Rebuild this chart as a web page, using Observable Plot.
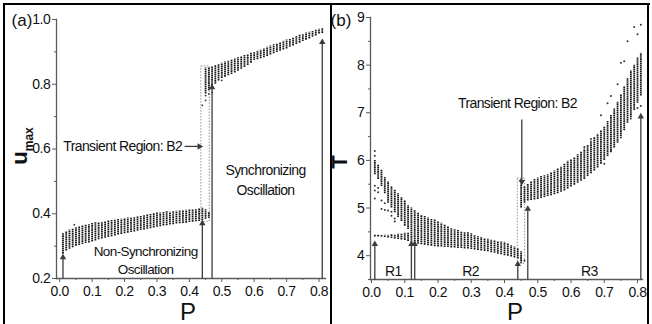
<!DOCTYPE html>
<html><head><meta charset="utf-8">
<script src="https://cdn.jsdelivr.net/npm/d3@7"></script>
<script src="https://cdn.jsdelivr.net/npm/@observablehq/plot@0.6"></script>
<style>
html,body{margin:0;padding:0;background:#fff;}
#fig{position:relative;width:652px;height:324px;overflow:hidden;background:#fff;
  font-family:"Liberation Sans",Arial,sans-serif;color:#111;}
.panel{position:absolute;top:0;}
.line{position:absolute;background:#000;}
.lbl{position:absolute;transform:translate(-50%,-50%);white-space:nowrap;line-height:1;}
#fig svg text{letter-spacing:-0.4px;}
#fig svg g[aria-label="text"] text{letter-spacing:-0.6px;}
</style></head>
<body><div id="fig">
<div id="pa" class="panel" style="left:0"></div>
<div id="pb" class="panel" style="left:331px"></div>
<div class="line" style="left:3px;top:3px;width:647px;height:2px"></div>
<div class="line" style="left:3px;top:3px;width:2px;height:321px"></div>
<div class="line" style="left:330px;top:3px;width:2px;height:321px"></div>
<div class="line" style="left:647px;top:3px;width:2px;height:321px"></div>
<div class="lbl" style="left:22px;top:20px;font-size:17px">(a)</div>
<div class="lbl" style="left:341px;top:20px;font-size:17px">(b)</div>
<div class="lbl" style="left:188px;top:312px;font-size:24px">P</div>
<div class="lbl" style="left:515px;top:312px;font-size:24px">P</div>
<div class="lbl" style="left:22px;top:146px;transform:translate(-50%,-50%) rotate(-90deg);font-size:22px;font-weight:bold">u<sub style="font-size:12px;font-weight:bold">max</sub></div>
<div class="lbl" style="left:340px;top:162px;transform:translate(-50%,-50%) rotate(-90deg);font-size:22px;font-weight:bold">T</div>
</div>
<script>
// ---------- Panel (a): u_max vs P ----------
const pA1  = [0.01,0.02,0.03,0.04,0.05,0.06,0.07,0.08,0.09,0.10,0.11,0.12,0.13,0.14,0.15,0.16,0.17,0.18,0.19,0.20,0.21,0.22,0.23,0.24,0.25,0.26,0.27,0.28,0.29,0.30,0.31,0.32,0.33,0.34,0.35,0.36,0.37,0.38,0.39,0.40,0.41,0.42,0.43,0.44,0.45,0.46];
const loA1 = [0.275,0.285,0.290,0.295,0.300,0.302,0.305,0.308,0.310,0.313,0.316,0.320,0.322,0.324,0.327,0.329,0.331,0.334,0.336,0.338,0.340,0.342,0.344,0.346,0.348,0.350,0.352,0.354,0.356,0.358,0.360,0.362,0.363,0.365,0.366,0.368,0.369,0.370,0.371,0.373,0.374,0.375,0.376,0.378,0.383,0.385];
const hiA1 = [0.340,0.345,0.350,0.352,0.358,0.360,0.362,0.365,0.366,0.370,0.372,0.373,0.374,0.376,0.378,0.379,0.380,0.382,0.383,0.385,0.387,0.388,0.389,0.391,0.393,0.395,0.396,0.398,0.400,0.404,0.402,0.404,0.406,0.405,0.407,0.408,0.409,0.410,0.411,0.413,0.412,0.414,0.416,0.418,0.412,0.405];
const pA2  = [0.45,0.46,0.47,0.48,0.49,0.50,0.51,0.52,0.53,0.54,0.55,0.56,0.57,0.58,0.59,0.60,0.61,0.62,0.63,0.64,0.65,0.66,0.67,0.68,0.69,0.70,0.71,0.72,0.73,0.74,0.75,0.76,0.77,0.78,0.79,0.80,0.81];
const loA2 = [0.770,0.780,0.790,0.800,0.810,0.818,0.822,0.826,0.830,0.835,0.840,0.846,0.852,0.858,0.865,0.873,0.876,0.879,0.882,0.886,0.890,0.894,0.898,0.902,0.906,0.909,0.914,0.918,0.923,0.927,0.932,0.936,0.940,0.945,0.949,0.955,0.957];
const hiA2 = [0.850,0.852,0.855,0.858,0.862,0.865,0.869,0.872,0.875,0.878,0.882,0.886,0.889,0.892,0.896,0.899,0.903,0.906,0.910,0.914,0.918,0.922,0.925,0.929,0.933,0.937,0.940,0.944,0.947,0.951,0.954,0.958,0.961,0.964,0.967,0.970,0.972];
const outPA = [0.045,0.45,0.45,0.46,0.44,0.50,0.47];
const outUA = [0.366,0.765,0.750,0.770,0.735,0.812,0.775];
const arrowPA   = [0.01,0.44,0.47,0.81];
const arrowTopA = [0.265,0.370,0.790,0.930];
const xTicks = [0,0.1,0.2,0.3,0.4,0.5,0.6,0.7,0.8];
const xMinor = [0.05,0.15,0.25,0.35,0.45,0.55,0.65,0.75];
const yTicksA = [0.2,0.4,0.6,0.8,1.0];
const yMinorA = [0.3,0.5,0.7,0.9];

// ---------- Panel (b): T vs P ----------
const pB1  = [0.01,0.02,0.03,0.04,0.05,0.06,0.07,0.08,0.09,0.10,0.11,0.12,0.13,0.14,0.15,0.16,0.17,0.18,0.19,0.20,0.21,0.22,0.23,0.24,0.25,0.26,0.27,0.28,0.29,0.30,0.31,0.32,0.33,0.34,0.35,0.36,0.37,0.38,0.39,0.40,0.41,0.42,0.43,0.44,0.45];
const loB1 = [5.70,5.60,5.45,5.30,5.10,5.00,4.90,4.80,4.72,4.62,4.55,4.50,4.25,4.24,4.23,4.22,4.21,4.20,4.19,4.18,4.18,4.17,4.17,4.16,4.16,4.15,4.15,4.14,4.14,4.13,4.12,4.11,4.10,4.09,4.08,4.06,4.05,4.03,4.02,4.00,3.99,3.97,3.95,3.93,3.88];
const hiB1 = [6.00,5.90,5.80,5.65,5.55,5.45,5.38,5.30,5.22,5.16,5.05,5.00,4.95,4.90,4.85,4.82,4.79,4.76,4.75,4.72,4.68,4.64,4.60,4.57,4.55,4.53,4.50,4.49,4.48,4.46,4.43,4.40,4.38,4.36,4.35,4.33,4.32,4.30,4.29,4.28,4.25,4.21,4.18,4.15,4.08];
const pB0  = [0.01,0.02,0.03,0.04,0.05,0.06,0.07,0.08,0.09,0.10,0.11,0.12];
const loB0 = [4.39,4.39,4.39,4.38,4.37,4.36,4.35,4.34,4.33,4.32,4.30,4.28];
const hiB0 = [4.44,4.44,4.43,4.43,4.43,4.44,4.44,4.45,4.46,4.47,4.48,4.50];
const pB2  = [0.45,0.46,0.47,0.48,0.49,0.50,0.51,0.52,0.53,0.54,0.55,0.56,0.57,0.58,0.59,0.60,0.61,0.62,0.63,0.64,0.65,0.66,0.67,0.68,0.69,0.70,0.71,0.72,0.73,0.74,0.75,0.76,0.77,0.78,0.79,0.80,0.81];
const loB2 = [5.00,5.10,5.15,5.16,5.17,5.18,5.20,5.22,5.24,5.26,5.28,5.30,5.33,5.36,5.40,5.44,5.48,5.52,5.56,5.60,5.66,5.72,5.78,5.84,5.92,6.00,6.08,6.16,6.26,6.36,6.50,6.62,6.78,6.90,7.05,7.20,7.35];
const hiB2 = [5.50,5.45,5.50,5.55,5.60,5.63,5.66,5.68,5.70,5.74,5.78,5.82,5.86,5.92,5.98,6.02,6.06,6.12,6.18,6.24,6.32,6.40,6.48,6.55,6.62,6.70,6.82,6.95,7.08,7.22,7.38,7.55,7.72,7.88,8.00,8.15,8.25];
const outPB = [0.01,0.01,0.01,0.01,0.01,0.02,0.02,0.03,0.03,0.04,0.04,0.05,0.06,0.06,0.07,0.07,0.45,0.45,0.46,0.45,
               0.69,0.71,0.72,0.74,0.75,0.76,0.77,0.79,0.80,0.81,0.70,0.72,0.75,0.78,0.80,0.81,0.66,0.64];
const outTB = [6.20,6.10,5.47,5.37,5.20,5.42,5.33,5.16,4.98,5.10,4.96,4.95,4.84,4.92,4.78,4.72,3.86,3.95,3.90,5.60,
               6.95,7.20,7.35,7.60,8.05,8.08,8.50,8.80,8.65,8.85,5.93,6.22,6.48,6.88,7.10,7.14,6.45,6.28];
const arrowPB   = [0.01,0.12,0.13,0.44,0.47,0.81];
const arrowTopB = [4.24,4.24,4.24,3.82,4.98,6.92];
const yTicksB = [4,5,6,7,8,9];
const yMinorB = [3.5,4.5,5.5,6.5,7.5,8.5];

const zip3 = (p, lo, hi) => p.map((v, i) => ({p: v, lo: lo[i], hi: hi[i]}));
const zip2 = (p, v, k) => p.map((x, i) => ({p: x, [k]: v[i]}));

const AX = "#5a5a5a", BAR = "#161616", ARW = "#3c3c3c";
const FONT = "'Liberation Sans',Arial,sans-serif";
const barOpts = {x: "p", y1: "lo", y2: "hi", stroke: BAR, strokeWidth: 1.8, strokeDasharray: "1.6,0.5"};

function arrowMarks(data, base) {
  return [
    Plot.link(data, {x1: "p", x2: "p", y1: base, y2: "top", stroke: ARW, strokeWidth: 1.3}),
    Plot.dot(data, {x: "p", y: "top", symbol: "triangle", r: 2.4, fill: ARW, stroke: "none"})
  ];
}

const chartA = Plot.plot({
  width: 331, height: 324,
  marginLeft: 56, marginRight: 6, marginTop: 19, marginBottom: 46,
  x: {domain: [-0.01, 0.82]},
  y: {domain: [0.2, 1.0]},
  style: {fontFamily: FONT, fontSize: "14px", color: "#111", background: "transparent", overflow: "visible"},
  marks: [
    Plot.frame({anchor: "left", stroke: AX, strokeWidth: 1.3}),
    Plot.frame({anchor: "bottom", stroke: AX, strokeWidth: 1.3}),
    Plot.axisY(yTicksA, {tickSize: 4, tickPadding: 2, tickFormat: d3.format(".1f"), label: null, stroke: AX}),
    Plot.axisY(yMinorA, {tickSize: 2, tickFormat: () => "", label: null, stroke: AX}),
    Plot.axisX(xTicks, {tickSize: 4, tickPadding: 4, tickFormat: d3.format(".1f"), label: null, stroke: AX}),
    Plot.axisX(xMinor, {tickSize: 2, tickFormat: () => "", label: null, stroke: AX}),
    Plot.rect([{x1: 0.437, x2: 0.463, y1: 0.375, y2: 0.855}], {x1: "x1", x2: "x2", y1: "y1", y2: "y2", fill: "none", stroke: "#888", strokeWidth: 0.9, strokeDasharray: "1.5,1.5"}),
    Plot.ruleX(zip3(pA1, loA1, hiA1), barOpts),
    Plot.ruleX(zip3(pA2, loA2, hiA2), barOpts),
    Plot.dot(zip2(outPA, outUA, "v"), {x: "p", y: "v", r: 0.9, fill: "#333", stroke: "none"}),
    ...arrowMarks(arrowPA.map((p, i) => ({p, top: arrowTopA[i]})), 0.2),
    Plot.link([{a: 0.385, b: 0.431, y: 0.608}], {x1: "a", x2: "b", y1: "y", y2: "y", stroke: ARW, strokeWidth: 1.3}),
    Plot.dot([{x: 0.431, y: 0.608}], {x: "x", y: "y", symbol: "triangle", rotate: 90, r: 2.4, fill: ARW, stroke: "none"}),
    Plot.text(["Transient Region: B2"], {x: 0.378, y: 0.608, text: d => d, textAnchor: "end", fontSize: 14, fill: "#111"}),
    Plot.text(["Synchronizing\nOscillation"], {x: 0.635, y: 0.509, text: d => d, fontSize: 14, lineHeight: 1.45, fill: "#111"}),
    Plot.text(["Non-Synchronizing\nOscillation"], {x: 0.265, y: 0.259, text: d => d, fontSize: 13.5, lineHeight: 1.35, fill: "#111"})
  ]
});
document.getElementById("pa").appendChild(chartA);

const chartB = Plot.plot({
  width: 321, height: 324,
  marginLeft: 39, marginRight: 10, marginTop: 17, marginBottom: 45,
  x: {domain: [-0.003, 0.815]},
  y: {domain: [3.5, 9]},
  style: {fontFamily: FONT, fontSize: "14px", color: "#111", background: "transparent", overflow: "visible"},
  marks: [
    Plot.frame({anchor: "left", stroke: AX, strokeWidth: 1.3}),
    Plot.frame({anchor: "bottom", stroke: AX, strokeWidth: 1.3}),
    Plot.axisY(yTicksB, {tickSize: 4, tickPadding: 2, tickFormat: d3.format("d"), label: null, stroke: AX}),
    Plot.axisY(yMinorB, {tickSize: 2, tickFormat: () => "", label: null, stroke: AX}),
    Plot.axisX(xTicks, {tickSize: 4, tickPadding: 4, tickFormat: d3.format(".1f"), label: null, stroke: AX}),
    Plot.axisX(xMinor, {tickSize: 2, tickFormat: () => "", label: null, stroke: AX}),
    Plot.rect([{x1: 0.44, x2: 0.462, y1: 3.83, y2: 5.62}], {x1: "x1", x2: "x2", y1: "y1", y2: "y2", fill: "none", stroke: "#888", strokeWidth: 0.9, strokeDasharray: "1.5,1.5"}),
    Plot.ruleX(zip3(pB0, loB0, hiB0), barOpts),
    Plot.ruleX(zip3(pB1, loB1, hiB1), barOpts),
    Plot.ruleX(zip3(pB2, loB2, hiB2), barOpts),
    Plot.dot(zip2(outPB, outTB, "v"), {x: "p", y: "v", r: 1.0, fill: "#333", stroke: "none"}),
    ...arrowMarks(arrowPB.map((p, i) => ({p, top: arrowTopB[i]})), 3.5),
    Plot.link([{x: 0.452, a: 6.86, b: 5.55}], {x1: "x", x2: "x", y1: "a", y2: "b", stroke: ARW, strokeWidth: 1.3}),
    Plot.dot([{x: 0.452, y: 5.55}], {x: "x", y: "y", symbol: "triangle", rotate: 180, r: 2.4, fill: ARW, stroke: "none"}),
    Plot.text(["Transient Region: B2"], {x: 0.439, y: 7.2, text: d => d, fontSize: 14, fill: "#111"}),
    Plot.text(["R1", "R2", "R3"], {x: [0.066, 0.298, 0.655], y: [3.66, 3.66, 3.66], text: d => d, fontSize: 14, fill: "#111"})
  ]
});
document.getElementById("pb").appendChild(chartB);
</script>
</body></html>
